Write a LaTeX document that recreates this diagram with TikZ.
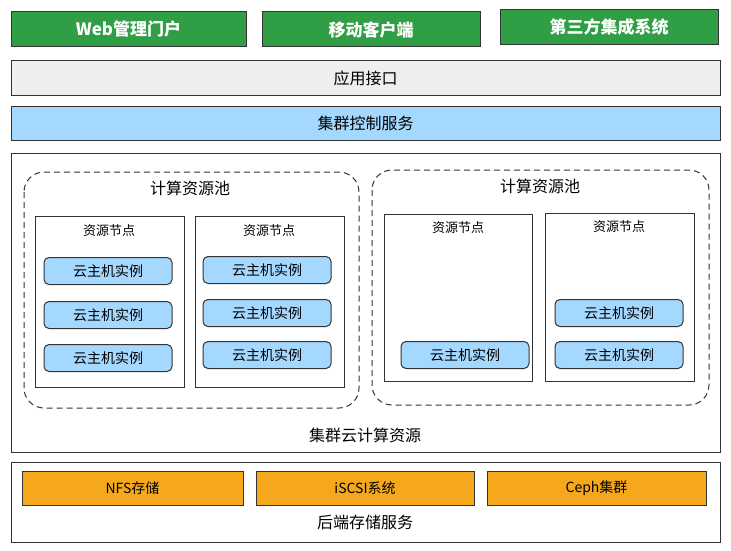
\documentclass[tikz,border=0pt]{standalone}
\usepackage{fontspec}
\setmainfont{Noto Sans CJK SC}
\usetikzlibrary{positioning}
\definecolor{clientgreen}{HTML}{2F9E44}
\definecolor{apigray}{HTML}{EEEEEE}
\definecolor{ctrlblue}{HTML}{A5D8FF}
\definecolor{storeorange}{HTML}{F5A81C}
\begin{document}
\begin{tikzpicture}[x=1pt,y=-1pt,line width=1pt,
    client/.style={draw=black!80,fill=clientgreen,text=white,font=\bfseries\fontsize{17}{19}\selectfont},
    layer/.style={draw=black!80,font=\fontsize{16}{18}\selectfont},
    frame/.style={draw=black!80},
    pool/.style={draw=black!80,dash pattern=on 6pt off 4pt,rounded corners=20pt},
    host/.style={draw=black!80},
    vm/.style={draw=black!80,fill=ctrlblue,rounded corners=5pt,minimum width=128pt,minimum height=27pt,font=\fontsize{14}{16}\selectfont},
    store/.style={draw=black!80,fill=storeorange,font=\fontsize{14}{16}\selectfont},
    caption/.style={font=\fontsize{16}{18}\selectfont},
    small/.style={font=\fontsize{13}{15}\selectfont}]
  \useasboundingbox (0,0) rectangle (731,551);
  % clients
  \draw[client] (11,12) rectangle node (web) {Web管理门户} (246,47);
  \draw[client] (262,12) rectangle node (mobile) {移动客户端} (480,47);
  \draw[client] (500,10) rectangle node (third) {第三方集成系统} (718,45);
  % api and control
  \draw[layer,fill=apigray] (11,61) rectangle node (api) {应用接口} (720,95);
  \draw[layer,fill=ctrlblue] (11,106) rectangle node (ctrl) {集群控制服务} (720,140);
  % compute resources
  \draw[frame] (11,153) rectangle (720,452);
  \node[caption] (cloud) at (365,435) {集群云计算资源};
  \draw[pool] (24,172) rectangle (359,408);
  \node[caption] (poolA) at (190,188) {计算资源池};
  \draw[pool] (372,170) rectangle (709,405);
  \node[caption] (poolB) at (540,186) {计算资源池};
  \draw[host] (35,216) rectangle (184,387);
  \node[small] (hostA) at (109,231) {资源节点};
  \draw[host] (195,216) rectangle (344,387);
  \node[small] (hostB) at (269,231) {资源节点};
  \draw[host] (384,214) rectangle (532,381);
  \node[small] (hostC) at (458,228) {资源节点};
  \draw[host] (545,213) rectangle (694,381);
  \node[small] (hostD) at (619,227) {资源节点};
  % instances
  \foreach \y [count=\i] in {271,315,358}
    \node[vm] (vmA\i) at (108,\y) {云主机实例};
  \foreach \y [count=\i] in {270,313,355}
    \node[vm] (vmB\i) at (267,\y) {云主机实例};
  \node[vm] (vmC1) at (465,355) {云主机实例};
  \node[vm] (vmD1) at (619,313) {云主机实例};
  \node[vm] (vmD2) at (619,355) {云主机实例};
  % storage
  \draw[frame] (11,462) rectangle (720,542);
  \draw[store] (22,471) rectangle node (nfs) {NFS存储} (243,505);
  \draw[store] (256,471) rectangle node (iscsi) {iSCSI系统} (474,505);
  \draw[store] (487,471) rectangle node (ceph) {Ceph集群} (706,505);
  \node[caption] (backend) at (365,522) {后端存储服务};
\end{tikzpicture}
\end{document}
